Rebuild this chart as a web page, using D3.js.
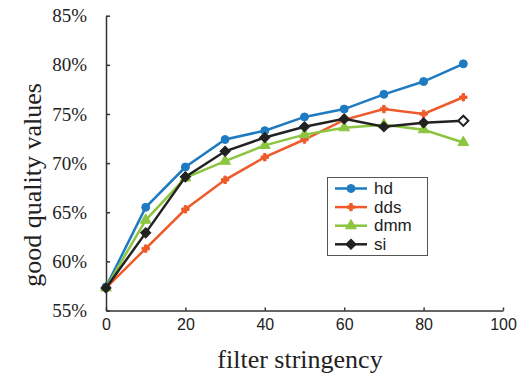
<!DOCTYPE html>
<html>
<head>
<meta charset="utf-8">
<script src="https://cdn.jsdelivr.net/npm/d3@7"></script>
<style>
body { margin: 0; background: #fff; }
</style>
</head>
<body>
<svg id="chart" width="524" height="375"></svg>
<script>
// filter stringency (x) and good quality values in % for each method
var xs = [0, 10, 20, 30, 40, 50, 60, 70, 80, 90]
var hd = [57.4, 65.5, 69.6, 72.4, 73.3, 74.7, 75.5, 77.0, 78.3, 80.1]
var dds = [57.3, 61.3, 65.3, 68.3, 70.6, 72.4, 74.4, 75.5, 75.0, 76.7]
var dmm = [57.3, 64.2, 68.5, 70.2, 71.8, 72.9, 73.6, 73.9, 73.4, 72.1]
var si = [57.3, 62.9, 68.6, 71.2, 72.6, 73.7, 74.5, 73.7, 74.1, 74.3]
var seriesNames = ["hd", "dds", "dmm", "si"]
var xTicks = [0, 20, 40, 60, 80, 100]
var yTicks = [55, 60, 65, 70, 75, 80, 85]

var colors = {hd: "#1f7bc1", dds: "#ef5a2a", dmm: "#8cc540", si: "#222222"}
var shapes = {hd: d3.symbolCircle, dds: d3.symbolCross, dmm: d3.symbolTriangle, si: d3.symbolSquare}
var sizes = {hd: 50, dds: 30, dmm: 50, si: 52}
var rot = {hd: 0, dds: 0, dmm: 0, si: 45}
var values = {hd: hd, dds: dds, dmm: dmm, si: si}

var svg = d3.select("#chart")
var x = d3.scaleLinear().domain([0, 100]).range([106, 503])
var y = d3.scaleLinear().domain([55, 85]).range([310.5, 15.7])

var serif = "Liberation Serif, Times New Roman, serif"
var sans = "Liberation Sans, Arial, sans-serif"

// axes (ticks on the inside)
var xAxis = svg.append("g").attr("transform", "translate(0," + y(55) + ")")
	.call(d3.axisBottom(x).tickValues(xTicks).tickSizeInner(-3).tickSizeOuter(0).tickPadding(8))
xAxis.selectAll("text").attr("font-family", sans).attr("font-size", 16).attr("fill", "#222")

var yAxis = svg.append("g").attr("transform", "translate(" + x(0) + ",0)")
	.call(d3.axisLeft(y).tickValues(yTicks).tickSizeInner(-4).tickSizeOuter(0).tickPadding(19)
		.tickFormat(function(d){ return d + "%" }))
yAxis.selectAll("text").attr("font-family", serif).attr("font-size", 19).attr("fill", "#222")

svg.selectAll(".domain, .tick line").attr("stroke", "#333").attr("stroke-width", 1.5)

// axis titles
svg.append("text")
	.attr("x", 300).attr("y", 368)
	.attr("text-anchor", "middle")
	.attr("font-family", serif)
	.attr("font-size", 26).attr("fill", "#222")
	.text("filter stringency")
svg.append("text")
	.attr("transform", "translate(41,185) rotate(-90)")
	.attr("text-anchor", "middle")
	.attr("font-family", serif)
	.attr("font-size", 26).attr("fill", "#222")
	.text("good quality values")

// lines and markers
var line = d3.line().x(function(d, i){ return x(xs[i]) }).y(function(d){ return y(d) })
seriesNames.forEach(function(name) {
	svg.append("path")
		.datum(values[name])
		.attr("d", line)
		.attr("fill", "none")
		.attr("stroke", colors[name])
		.attr("stroke-width", 2.5)
	svg.selectAll(".m-" + name)
		.data(values[name])
		.enter()
		.append("path")
		.attr("class", "m-" + name)
		.attr("transform", function(d, i){
			return "translate(" + x(xs[i]) + "," + y(d) + ") rotate(" + rot[name] + ")"
		})
		.attr("d", d3.symbol().type(shapes[name]).size(sizes[name]))
		.attr("fill", function(d, i){
			// last si point is drawn open in the original
			return (name == "si" && i == xs.length - 1) ? "#fff" : colors[name]
		})
		.attr("stroke", colors[name])
		.attr("stroke-width", function(d, i){ return (name == "si" && i == xs.length - 1) ? 2 : 1 })
})

// legend
var legend = svg.append("g")
legend.append("rect")
	.attr("x", 327.5).attr("y", 177.5)
	.attr("width", 100).attr("height", 78)
	.attr("fill", "#fff").attr("stroke", "#555").attr("stroke-width", 1)
seriesNames.forEach(function(name, i) {
	var ly = 188.5 + i * 18.6
	legend.append("line")
		.attr("x1", 335).attr("x2", 367)
		.attr("y1", ly).attr("y2", ly)
		.attr("stroke", colors[name]).attr("stroke-width", 2.5)
	legend.append("path")
		.attr("transform", "translate(351," + ly + ") rotate(" + rot[name] + ")")
		.attr("d", d3.symbol().type(shapes[name]).size(sizes[name]))
		.attr("fill", colors[name]).attr("stroke", colors[name])
	legend.append("text")
		.attr("x", 374).attr("y", ly + 5.5)
		.attr("font-family", sans)
		.attr("font-size", 17).attr("fill", "#222")
		.text(name)
})
</script>
</body>
</html>
